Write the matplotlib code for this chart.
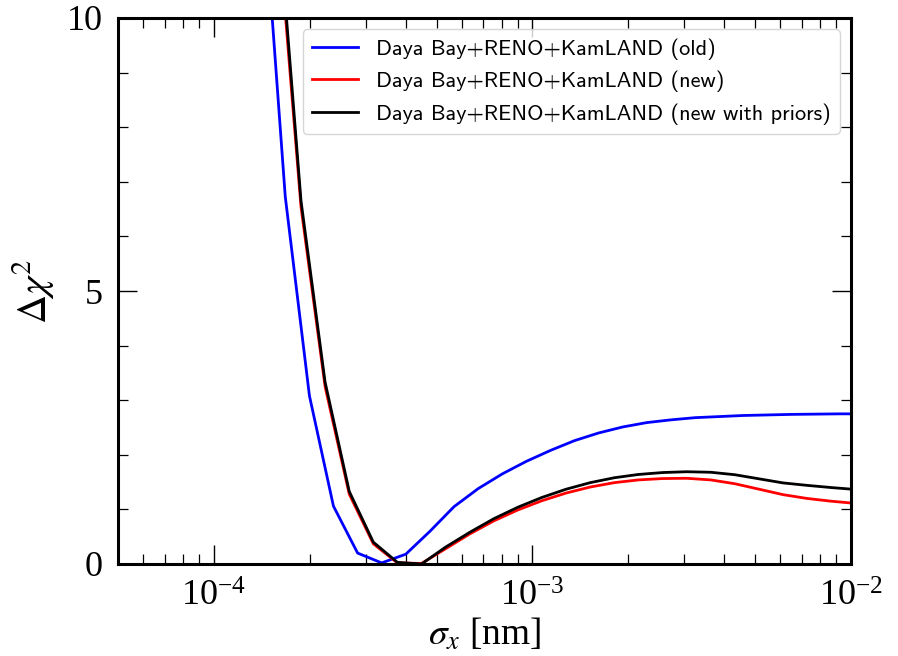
import matplotlib
matplotlib.use("Agg")
import matplotlib.pyplot as plt
from matplotlib.ticker import MultipleLocator, LogLocator, NullFormatter

plt.rcParams['font.family'] = ['Liberation Serif', 'DejaVu Serif']
plt.rcParams['mathtext.fontset'] = 'stix'

# --- data ---
x_old = [1.41e-4, 1.675e-4, 1.995e-4, 2.373e-4, 2.826e-4, 3.363e-4, 4.004e-4,
         4.768e-4, 5.673e-4, 6.753e-4, 8.04e-4, 9.568e-4, 1.139e-3, 1.356e-3,
         1.614e-3, 1.921e-3, 2.286e-3, 2.721e-3, 3.239e-3, 3.856e-3, 4.589e-3,
         5.463e-3, 6.503e-3, 7.74e-3, 9.21e-3, 1.096e-2]
y_old = [12.7, 6.73, 3.08, 1.06, 0.20, 0.02, 0.18,
         0.60, 1.05, 1.38, 1.65, 1.88, 2.08, 2.26,
         2.40, 2.51, 2.59, 2.64, 2.68, 2.70, 2.72,
         2.73, 2.74, 2.745, 2.75, 2.75]

x_new = [1.577e-4, 1.877e-4, 2.234e-4, 2.66e-4, 3.166e-4, 3.768e-4, 4.485e-4,
         5.34e-4, 6.355e-4, 7.565e-4, 9.0e-4, 1.072e-3, 1.276e-3, 1.519e-3,
         1.808e-3, 2.152e-3, 2.562e-3, 3.049e-3, 3.629e-3, 4.32e-3, 5.143e-3,
         6.121e-3, 7.287e-3, 8.673e-3, 1.032e-2]
y_new = [11.96, 6.54, 3.25, 1.28, 0.37, 0.02, 0.01,
         0.28, 0.55, 0.79, 0.99, 1.16, 1.30, 1.41,
         1.49, 1.54, 1.565, 1.57, 1.54, 1.47, 1.37,
         1.27, 1.20, 1.15, 1.11]
y_prior = [12.2, 6.65, 3.33, 1.33, 0.40, 0.03, 0.0,
           0.31, 0.58, 0.83, 1.04, 1.22, 1.37, 1.49,
           1.58, 1.64, 1.675, 1.69, 1.68, 1.635, 1.56,
           1.485, 1.44, 1.40, 1.365]

labels = ["Daya Bay+RENO+KamLAND (old)",
          "Daya Bay+RENO+KamLAND (new)",
          "Daya Bay+RENO+KamLAND (new with priors)"]

fig = plt.figure(figsize=(8.98, 6.56), dpi=100)
ax = fig.add_axes([118/898, 92/656, (851-118)/898, (564-18)/656])

ax.plot(x_old, y_old, color='#0000ff', lw=2.0, label=labels[0])
ax.plot(x_new, y_new, color='#ff0000', lw=2.0, label=labels[1])
ax.plot(x_new, y_prior, color='black', lw=2.0, label=labels[2])

ax.set_xscale('log')
ax.set_xlim(5e-5, 1e-2)
ax.set_ylim(0, 10)
ax.yaxis.set_major_locator(MultipleLocator(5))
ax.yaxis.set_minor_locator(MultipleLocator(1))
ax.xaxis.set_major_locator(LogLocator(base=10, numticks=10))
ax.xaxis.set_minor_locator(LogLocator(base=10, subs=range(2, 10), numticks=20))
ax.xaxis.set_minor_formatter(NullFormatter())

ax.tick_params(which='both', direction='in', top=True, right=True, labelsize=26)
ax.tick_params(which='major', length=14, width=1.0)
ax.tick_params(which='minor', length=7, width=0.9)
ax.tick_params(axis='x', which='major', pad=12)
ax.tick_params(axis='y', which='major', pad=11)
for s in ax.spines.values():
    s.set_linewidth(2.2)

ax.set_xlabel(r'$\sigma_x$ [nm]', fontsize=27, labelpad=2)
ax.set_ylabel(r'$\Delta\chi^2$', fontsize=29, labelpad=8)

leg = ax.legend(loc='upper right', prop={'family': ['cmss10', 'DejaVu Sans'], 'size': 16},
                frameon=True, fancybox=True, framealpha=0.8, edgecolor='#cccccc',
                handlelength=2.1, borderaxespad=0.5)

fig.savefig('out.png', dpi=100)
